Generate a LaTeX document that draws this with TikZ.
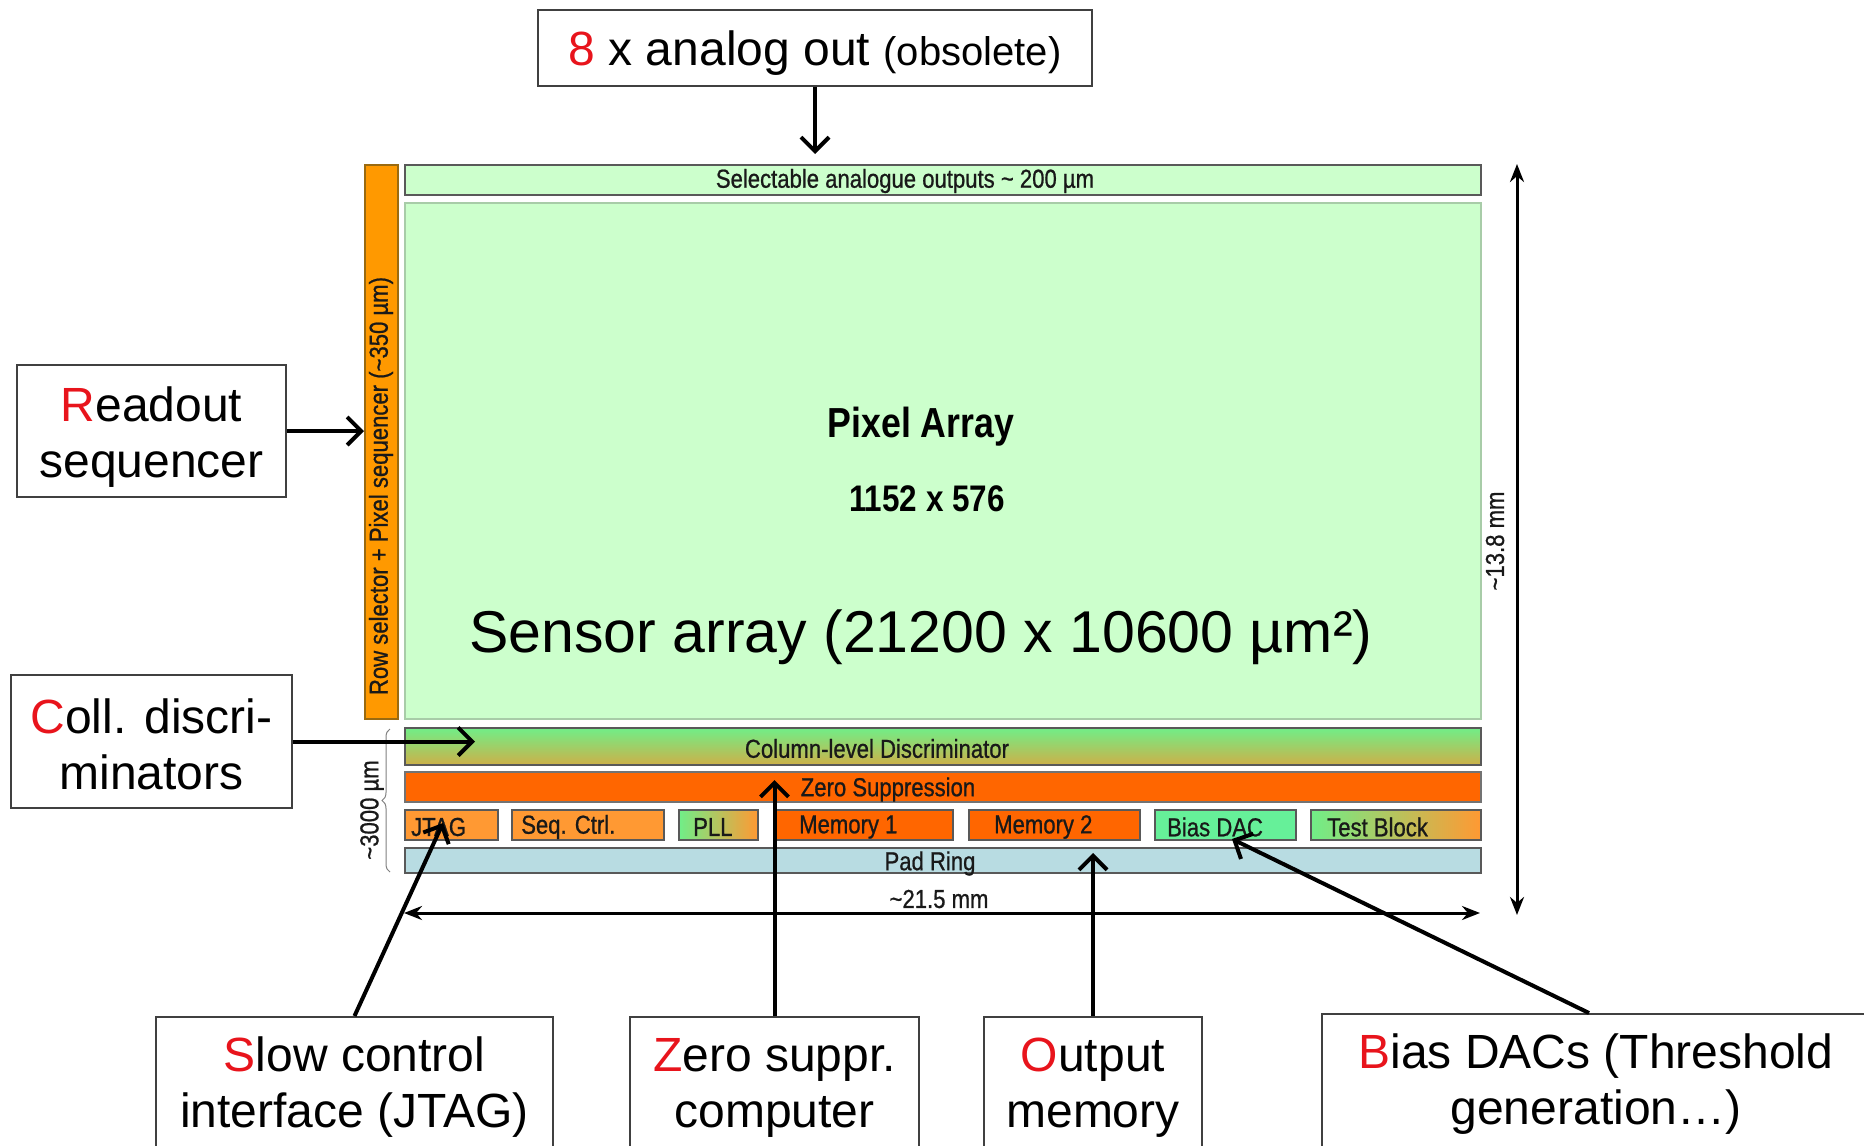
\documentclass[tikz,border=0pt]{standalone}
\usepackage{fontspec}
\setmainfont{Liberation Sans}
\newfontfamily\condf[FakeStretch=0.85]{Liberation Sans}
\newfontfamily\condfb[FakeStretch=0.85,FakeBold=0.8]{Liberation Sans}
\usetikzlibrary{arrows.meta,decorations.pathreplacing}
\definecolor{pixgreen}{HTML}{CCFFCC}
\definecolor{pixedge}{HTML}{A8CCA8}
\definecolor{orangeA}{HTML}{FF9900}
\definecolor{orangeedge}{HTML}{9A6A10}
\definecolor{orangeZ}{HTML}{FF6600}
\definecolor{orangeL}{HTML}{FF9933}
\definecolor{mint}{HTML}{66F099}
\definecolor{padblue}{HTML}{B8DCE2}
\definecolor{discgreen}{HTML}{70EE88}
\definecolor{discolive}{HTML}{CDB048}
\definecolor{lblred}{HTML}{E8141C}
\tikzset{
  chip/.style={draw=black!65, line width=1.6pt, inner sep=0pt, anchor=north west},
  tag/.style={font=\condfb\fontsize{26}{26}\selectfont, inner sep=0pt, text=black!90},
  tagw/.style={tag, anchor=west},
  callbox/.style={draw=black!75, line width=2pt, fill=white, inner sep=0pt},
  calltext/.style={align=center, font=\fontsize{48}{56}\selectfont, inner sep=0pt},
  callout/.style={line width=4pt, -{Straight Barb[length=14pt,width=28pt]}},
  dimline/.style={line width=3pt, {Stealth[length=18pt,width=14pt]}-{Stealth[length=18pt,width=14pt]}},
}
\begin{document}
\begin{tikzpicture}[x=1pt,y=-1pt]
\useasboundingbox (0,0) rectangle (1864,1146);
\fill[white] (0,0) rectangle (1864,1146);

% chip blocks
\node[chip, fill=pixgreen, minimum width=1076pt, minimum height=30pt] (sel) at (404,164) {};
\node[chip, fill=pixgreen, draw=pixedge, minimum width=1076pt, minimum height=516pt] (pix) at (404,202) {};
\node[chip, fill=orangeA, draw=orangeedge, minimum width=33pt, minimum height=554pt] (row) at (364,164) {};
\node[chip, top color=discgreen, bottom color=discolive, minimum width=1076pt, minimum height=37pt] (disc) at (404,727) {};
\node[chip, fill=orangeZ, draw=black!55, minimum width=1076pt, minimum height=30pt] (zs) at (404,771) {};
\node[chip, fill=orangeL, minimum width=93pt, minimum height=30pt] (jtag) at (404,809) {};
\node[chip, fill=orangeL, minimum width=152pt, minimum height=30pt] (seq) at (511,809) {};
\node[chip, left color=discgreen, right color=orangeL, minimum width=79pt, minimum height=30pt] (pll) at (678,809) {};
\node[chip, fill=orangeZ, minimum width=179pt, minimum height=30pt] (mem1) at (773,809) {};
\node[chip, fill=orangeZ, minimum width=171pt, minimum height=30pt] (mem2) at (968,809) {};
\node[chip, fill=mint, minimum width=141pt, minimum height=30pt] (bdac) at (1154,809) {};
\node[chip, left color=discgreen, right color=orangeL, minimum width=170pt, minimum height=30pt] (test) at (1310,809) {};
\node[chip, fill=padblue, minimum width=1076pt, minimum height=25pt] (pad) at (404,847) {};

% chip labels
\node[tag] (selT) at (905,181) {Selectable analogue outputs \textasciitilde{} 200 µm};
\node[tag, rotate=90] (rowT) at (381,486) {Row selector + Pixel sequencer (\textasciitilde350 µm)};
\node[tag] (discT) at (877,748.5) {Column-level Discriminator};
\node[tag] (zsT) at (888,789.5) {Zero Suppression};
\node[tagw] (jtagT) at (411,827) {JTAG};
\node[tagw] (seqT) at (521,827) {Seq. Ctrl.};
\node[tagw] (pllT) at (693,827) {PLL};
\node[tagw] (mem1T) at (799,827) {Memory 1};
\node[tagw] (mem2T) at (994,827) {Memory 2};
\node[tagw] (bdacT) at (1167,827) {Bias DAC};
\node[tagw] (testT) at (1327,827) {Test Block};
\node[tag] (padT) at (930,863.5) {Pad Ring};

\node[inner sep=0pt, font=\condf\bfseries\fontsize{42}{42}\selectfont] (pixT) at (921,427) {Pixel Array};
\node[inner sep=0pt, font=\condf\bfseries\fontsize{37}{37}\selectfont] (sizeT) at (927,499) {1152 x 576};
\node[inner sep=0pt, font=\fontsize{59}{59}\selectfont] (sensT) at (921,637) {Sensor array (21200 x 10600 µm²)};

% dimensions
\coordinate (h1) at (404,913);
\coordinate (h2) at (1480,913);
\coordinate (v1) at (1517,164);
\coordinate (v2) at (1517,915);
\draw[dimline] (h1) -- (h2);
\draw[dimline] (v1) -- (v2);
\node[tag] (hT) at (939,899) {\textasciitilde21.5 mm};
\node[tag, rotate=90] (vT) at (1495,541) {\textasciitilde13.8 mm};
\coordinate (b1) at (390,872);
\coordinate (b2) at (390,729);
\draw[decorate, decoration={brace, amplitude=8pt}, black!50, line width=1pt] (b1) -- (b2);
\node[tag, rotate=90] (brT) at (372,810) {\textasciitilde3000 µm};

% callout boxes
\node[callbox, minimum width=554pt, minimum height=76pt] (ana) at (815,47.5) {};
\node[callbox, minimum width=269pt, minimum height=132pt] (rs) at (151.5,431) {};
\node[callbox, minimum width=281pt, minimum height=133pt] (cd) at (151.5,741.5) {};
\node[callbox, anchor=north, minimum width=397pt, minimum height=134pt] (sc) at (354.5,1016) {};
\node[callbox, anchor=north, minimum width=289pt, minimum height=134pt] (zc) at (774.5,1016) {};
\node[callbox, anchor=north, minimum width=218pt, minimum height=134pt] (om) at (1093,1016) {};
\node[callbox, anchor=north, minimum width=548pt, minimum height=134pt] (bd) at (1596,1013) {};

\node[calltext, yshift=-6pt] (anaT) at (ana.center)
  {{\color{lblred}8} x analog out {\fontsize{40}{40}\selectfont(obsolete)}};
\node[calltext, yshift=-6pt] (rsT) at (rs.center) {{\color{lblred}R}eadout\\sequencer};
\node[calltext, yshift=-2.5pt] (cdT) at (cd.center) {{\color{lblred}C}oll. discri-\\minators};
\node[calltext, yshift=-3.5pt] (scT) at (sc.center) {{\color{lblred}S}low control\\interface (JTAG)};
\node[calltext, yshift=-3.5pt] (zcT) at (zc.center) {{\color{lblred}Z}ero suppr.\\computer};
\node[calltext, yshift=-3.5pt] (omT) at (om.center) {{\color{lblred}O}utput\\memory};
\node[calltext, yshift=-3.5pt] (bdT) at (bd.center) {{\color{lblred}B}ias DACs (Threshold\\generation…)};

% callout arrows
\coordinate (tA) at (815,154);
\coordinate (tC) at (475,741.5);
\coordinate (tS) at (443,823);
\coordinate (tZ) at (774.5,780);
\coordinate (tO) at (1093,853);
\coordinate (tB) at (1232,839);
\draw[callout] (ana.south) -- (tA);
\draw[callout] (rs.east) -- (rs.east -| row.west);
\draw[callout] (cd.east) -- (tC);
\draw[callout] (sc.north) -- (tS);
\draw[callout] (zc.north) -- (tZ);
\draw[callout] (om.north) -- (tO);
\draw[callout] ([xshift=-7pt]bd.north) -- (tB);
\end{tikzpicture}
\end{document}
